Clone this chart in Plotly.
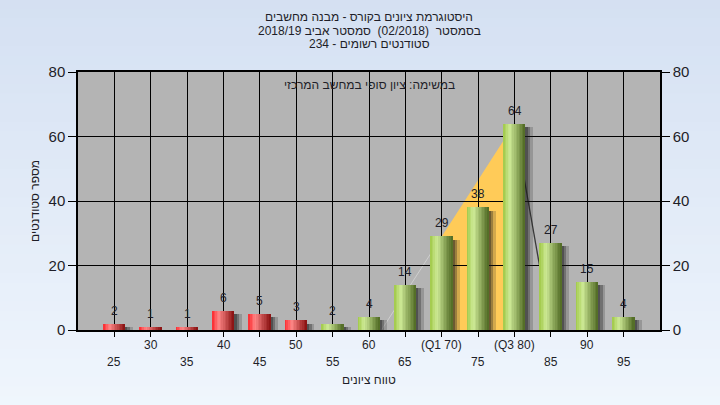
import plotly.graph_objects as go

# ---------------- data ----------------
grades = [25, 30, 35, 40, 45, 50, 55, 60, 65, 70, 75, 80, 85, 90, 95]
counts = [2, 1, 1, 6, 5, 3, 2, 4, 14, 29, 38, 64, 27, 15, 4]
tick_labels = ["25", "30", "35", "40", "45", "50", "55", "60", "65",
               "(Q1 70)", "75", "(Q3 80)", "85", "90", "95"]
pass_mark = 55
q1_grade = 70
q3_grade = 80
bin_width = 5

title_lines = ["היסטוגרמת ציונים בקורס - מבנה מחשבים",
               "בסמסטר  (02/2018)  סמסטר אביב 2018/19",
               "סטודנטים רשומים - 234"]
note_text = "במשימה: ציון סופי במחשב המרכזי"
x_title = "טווח ציונים"
y_title = "מספר סטודנטים"
y_ticks = [0, 20, 40, 60, 80]

# ---------------- style ----------------
FONT = "Liberation Sans, Arial, DejaVu Sans, sans-serif"
TXT = "#1e1e28"
bar_w = 0.6 * bin_width
N_STRIPS = 14

red_stops = [(0.0, (250, 40, 45)), (0.3, (255, 135, 135)), (1.0, (135, 15, 15))]
green_stops = [(0.0, (160, 200, 70)), (0.3, (206, 234, 150)), (1.0, (78, 104, 34))]


def grad(stops, t):
    for (t0, c0), (t1, c1) in zip(stops[:-1], stops[1:]):
        if t <= t1:
            f = (t - t0) / (t1 - t0)
            return "rgb(%d,%d,%d)" % tuple(round(a + (b - a) * f) for a, b in zip(c0, c1))
    return "rgb(%d,%d,%d)" % stops[-1][1]


fig = go.Figure()

# shadows
for shift, alpha in [(1.0, 0.2), (0.6, 0.3), (0.3, 0.38)]:
    fig.add_trace(go.Bar(
        x=grades, y=counts, base=-1.0, width=bar_w, offset=-bar_w / 2 + shift,
        marker=dict(color="rgba(30,30,30,%g)" % alpha, line=dict(width=0)),
        hoverinfo="skip", showlegend=False))

# bars as gradient strips
for i in range(N_STRIPS):
    t = (i + 0.5) / N_STRIPS
    cols = [grad(red_stops if g < pass_mark else green_stops, t) for g in grades]
    fig.add_trace(go.Bar(
        x=grades, y=counts, width=bar_w / N_STRIPS * 1.02,
        offset=-bar_w / 2 + i * bar_w / N_STRIPS,
        marker=dict(color=cols, line=dict(width=0)),
        hoverinfo="skip", showlegend=False))

# dummy trace for right axis
fig.add_trace(go.Scatter(x=[grades[0]], y=[0], yaxis="y2", mode="markers",
                         marker=dict(opacity=0), hoverinfo="skip", showlegend=False))

# quartile triangle
c_q1 = counts[grades.index(q1_grade)]
c_q3 = counts[grades.index(q3_grade)]
x0 = q1_grade - c_q1 * (q3_grade - q1_grade) / (c_q3 - c_q1)
shapes = []
# background gradient (paper)
n_bg = 45
top_c = (212, 224, 242)
bot_c = (240, 246, 253)
y_top, y_bot = 1.32, -0.33
step = (y_top - y_bot) / n_bg
for k in range(n_bg):
    col = "rgb(%d,%d,%d)" % tuple(round(a + (b - a) * k / (n_bg - 1)) for a, b in zip(top_c, bot_c))
    shapes.append(dict(type="rect", xref="paper", yref="paper", x0=-0.2, x1=1.2,
                       y1=y_top - k * step, y0=y_top - (k + 1) * step - 0.01,
                       fillcolor=col, line=dict(width=0), layer="below"))
# plot area grey
shapes.append(dict(type="rect", xref="paper", yref="paper", x0=0, x1=1, y0=0, y1=1,
                   fillcolor="#b4b4b4", line=dict(width=0), layer="below"))
shapes.append(dict(type="path", xref="x", yref="y", layer="below",
                   path="M %g,0 L %g,%g L %g,%g L %g,0 Z" % (q1_grade, q1_grade, c_q1, q3_grade, c_q3, q3_grade),
                   fillcolor="#ffcb58", line=dict(width=0)))
shapes.append(dict(type="line", xref="x", yref="y", layer="below",
                   x0=x0, y0=0, x1=q1_grade, y1=c_q1, line=dict(color="#cfcfcf", width=1)))
shapes.append(dict(type="line", xref="x", yref="y", layer="below",
                   x0=q3_grade, y0=c_q3, x1=q3_grade + bin_width, y1=0, line=dict(color="#3a3a3a", width=1.3)))

annotations = []
# value labels
for g, c in zip(grades, counts):
    annotations.append(dict(x=g, xref="x", y=c, yref="y", text=str(c), showarrow=False,
                            yanchor="middle", yshift=13,
                            font=dict(family=FONT, size=12, color=TXT)))
for i, (g, lab) in enumerate(zip(grades, tick_labels)):
    annotations.append(dict(x=g, xref="x", y=0, yref="paper", text=lab, showarrow=False,
                            yanchor="middle", yshift=-15 if i % 2 else -32,
                            font=dict(family=FONT, size=12, color=TXT)))
annotations.append(dict(x=0.5, xref="paper", y=0, yref="paper", text=x_title, showarrow=False,
                        yanchor="middle", yshift=-50, font=dict(family=FONT, size=12, color=TXT)))
annotations.append(dict(x=0, xref="paper", y=0.5, yref="paper", text=y_title, showarrow=False,
                        textangle=-90, xanchor="center", xshift=-43,
                        font=dict(family=FONT, size=12, color=TXT)))
annotations.append(dict(x=0.5, xref="paper", y=1, yref="paper", text=note_text, showarrow=False,
                        yanchor="middle", yshift=-13, font=dict(family=FONT, size=12, color=TXT)))
for line, shift in zip(title_lines, [55, 41.5, 28]):
    annotations.append(dict(x=0.5, xref="paper", y=1, yref="paper", text=line,
                            showarrow=False, yanchor="middle", yshift=shift,
                            font=dict(family=FONT, size=12, color=TXT)))

axis_font = dict(family=FONT, size=15, color=TXT)
fig.update_layout(
    width=720, height=405,
    margin=dict(l=78, r=60, t=72, b=75),
    paper_bgcolor="rgb(226,235,248)",
    plot_bgcolor="#b4b4b4",
    barmode="overlay",
    bargap=0,
    showlegend=False,
    shapes=shapes,
    annotations=annotations,
    xaxis=dict(range=[grades[0] - bin_width, grades[-1] + bin_width], tickvals=grades,
               showticklabels=False, ticks="outside", ticklen=5, tickcolor="black",
               showgrid=True, gridcolor="black", gridwidth=1,
               showline=True, linecolor="black", linewidth=1.5, mirror=True, zeroline=False),
    yaxis=dict(range=[0, 80], tickvals=y_ticks, ticks="outside", ticklen=8, tickcolor="black",
               tickfont=axis_font, showgrid=True, gridcolor="black", gridwidth=1,
               showline=True, linecolor="black", linewidth=1.5, zeroline=False),
    yaxis2=dict(range=[0, 80], tickvals=y_ticks, overlaying="y", side="right", matches="y",
                ticks="outside", ticklen=8, tickcolor="black", tickfont=axis_font,
                showgrid=False, showline=True, linecolor="black", linewidth=1.5, zeroline=False),
)

fig.write_html("out.html", config={"displayModeBar": False},
               post_script="document.body.style.margin='0';")
